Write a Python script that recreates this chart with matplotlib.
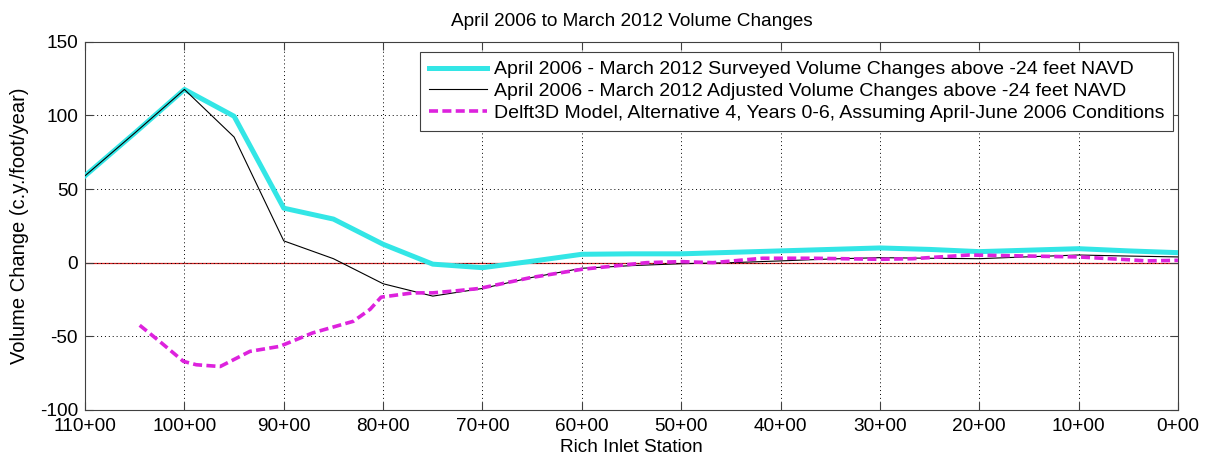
import matplotlib
matplotlib.use('Agg')
from matplotlib import pyplot as plt
from matplotlib.ticker import FuncFormatter

# station in hundreds of feet (110 -> "110+00")
survey_station = [110, 105, 100, 95, 90, 85, 80, 75, 70, 65, 60, 55, 50, 45, 40, 35, 30, 25, 20, 15, 10, 5, 0]
surveyed = [59, 88, 117.6, 99.4, 37, 29.6, 12.5, -1, -3.4, 1, 5.7, 6, 6, 7, 8, 9, 10, 9, 7.5, 8.5, 9.5, 8, 6.8]
adjusted = [59, 88, 117.6, 85.3, 14.8, 2.7, -14.3, -22.7, -17.5, -10, -3.8, -2, -0.7, 0, 1.2, 2.5, 3.4, 3, 2.7, 4, 5.2, 4.5, 3.9]

model_station = [104.5, 102.5, 100.1, 98.8, 96.4, 93.4, 90.4, 87.1, 83, 81.3, 80.2, 77, 75, 72.5, 70.3,
                 65.2, 60, 53.5, 50, 46.8, 41.8, 36.8, 30, 26.7, 21, 15, 10, 5, 3.2, 0]
model = [-42.5, -53.4, -67, -69.3, -70.5, -60.2, -56.8, -47.7, -39.8, -31.6, -23.4, -20.5, -20.5, -19, -17.5,
         -10.2, -4.5, 0, 0.7, 0, 3, 3, 2.3, 2.7, 5.2, 4.5, 3.9, 2, 1.2, 1.6]

labels = ['April 2006 - March 2012 Surveyed Volume Changes above -24 feet NAVD',
          'April 2006 - March 2012 Adjusted Volume Changes above -24 feet NAVD',
          'Delft3D Model, Alternative 4, Years 0-6, Assuming April-June 2006 Conditions']

plt.rcParams['font.family'] = ['Liberation Sans', 'DejaVu Sans']
plt.rcParams['axes.unicode_minus'] = False

fig = plt.figure(figsize=(12.15, 4.62), dpi=100)
ax = fig.add_axes([0.07, 0.1126, 0.8995, 0.7971])

ax.axhline(0, color='#d02020', lw=0.9, zorder=1)
ax.plot(survey_station, surveyed, color='#33e6e6', lw=3.6, label=labels[0], zorder=3)
ax.plot(survey_station, adjusted, color='black', lw=0.8, label=labels[1], zorder=4)
ax.plot(model_station, model, color='#dd22dd', lw=2.6, ls=(0, (2.5, 1.2)), label=labels[2], zorder=5)

ax.set_xlim(110, 0)
ax.set_ylim(-100, 150)
ax.set_xticks(range(0, 111, 10))
ax.set_yticks(range(-100, 151, 50))
ax.xaxis.set_major_formatter(FuncFormatter(lambda v, p: '{}+00'.format(int(v))))
ax.grid(True, color='black', ls=(0, (1, 3)), lw=0.7)
ax.tick_params(direction='in', top=True, right=True, labelsize=13.7, length=6, color='#404040')
ax.tick_params(axis='x', pad=6)
ax.tick_params(axis='y', pad=5)
for s in ax.spines.values():
    s.set_color('#404040')

ax.set_title('April 2006 to March 2012 Volume Changes', fontsize=13.7, pad=11)
ax.set_xlabel('Rich Inlet Station', fontsize=13.7, labelpad=3)
ax.set_ylabel('Volume Change (c.y./foot/year)', fontsize=14.5, labelpad=8)

leg = ax.legend(loc='upper right', fontsize=14, handlelength=3.0, handletextpad=0.35,
                fancybox=False, framealpha=1, edgecolor='#404040', borderpad=0.45,
                labelspacing=0.22, borderaxespad=0, bbox_to_anchor=(0.9954, 0.972))
leg.get_frame().set_linewidth(0.8)

fig.savefig('out.png', dpi=100)
